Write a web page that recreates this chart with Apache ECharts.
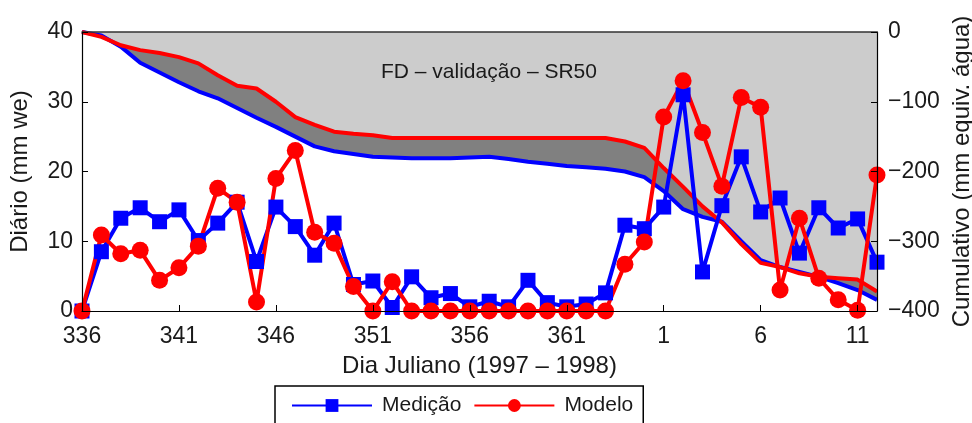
<!DOCTYPE html>
<html>
<head>
<meta charset="utf-8">
<script src="https://cdn.jsdelivr.net/npm/echarts@6/dist/echarts.min.js"></script>
<style>
html,body{margin:0;padding:0;background:#fff;}
#chart{width:972px;height:423px;}
</style>
</head>
<body>
<div id="chart"></div>
<script>
// Julian days (1997 - 1998)
var days = ['336','337','338','339','340','341','342','343','344','345','346','347','348','349','350',
            '351','352','353','354','355','356','357','358','359','360','361','362','363','364','365',
            '1','2','3','4','5','6','7','8','9','10','11','12'];
// Daily values (mm we) - left axis
var medicao = [0, 8.5, 13.3, 14.8, 12.8, 14.5, 10.1, 12.6, 15.6, 7.1, 14.9, 12.1, 8.0, 12.6, 3.8,
               4.3, 0.5, 4.9, 1.9, 2.5, 0.6, 1.4, 0.6, 4.4, 1.2, 0.6, 1.0, 2.6, 12.3, 11.8,
               14.9, 31.0, 5.6, 15.1, 22.1, 14.2, 16.2, 8.3, 14.8, 11.9, 13.2, 7.0];
var modelo = [0, 10.9, 8.2, 8.7, 4.4, 6.2, 9.3, 17.6, 15.6, 1.3, 19.0, 23.0, 11.3, 9.7, 3.5,
              0, 4.2, 0, 0, 0, 0, 0, 0, 0, 0, 0, 0, 0, 6.7, 9.9,
              27.8, 33.0, 25.6, 17.9, 30.6, 29.2, 3.0, 13.3, 4.7, 1.6, 0.1, 19.5];
// Cumulative values (mm equiv. água) - right axis
var cumMedicao = [0, -5, -21, -44, -58, -72, -85, -95, -109, -123, -136, -150, -164, -171, -175,
                  -179, -180, -181, -181, -181, -180, -179, -182, -186, -189, -192, -194, -196, -200, -208,
                  -228, -254, -265, -272, -300, -327, -337, -344, -351, -360, -370, -384];
var cumModelo = [0, -7, -19, -26, -30, -36, -45, -62, -77, -81, -100, -122, -133, -143, -146,
                 -148, -152, -152, -152, -152, -152, -152, -152, -152, -152, -152, -152, -152, -157, -166,
                 -195, -222, -250, -273, -304, -331, -337, -346, -351, -353, -355, -372];
var leftTicks = {min: 0, max: 40, interval: 10};
var rightTicks = {min: -400, max: 0, interval: 100};

var FONT = 'Liberation Sans, Arial, Helvetica, sans-serif';
var TXT = '#1a1a1a';
var chart = echarts.init(document.getElementById('chart'), null, {renderer: 'canvas'});
chart.setOption({
  animation: false,
  backgroundColor: '#ffffff',
  textStyle: {fontFamily: FONT},
  title: {
    text: 'FD – validação – SR50',
    left: 381, top: 62, padding: 0,
    textStyle: {fontFamily: FONT, fontSize: 21, fontWeight: 'normal', color: TXT}
  },
  grid: {left: 82, right: 95, top: 32, bottom: 112, containLabel: false, outerBoundsMode: 'none'},
  legend: {
    data: ['Medição', 'Modelo'],
    left: 275, top: 386,
    padding: [9, 10, 30, 16],
    itemGap: 12,
    itemWidth: 80, itemHeight: 16,
    borderColor: '#000', borderWidth: 1.5,
    textStyle: {fontFamily: FONT, fontSize: 21, color: TXT, padding: [0, 0, 0, 5]}
  },
  xAxis: [{
    type: 'category', data: days, boundaryGap: false, z: 5,
    name: 'Dia Juliano (1997 – 1998)', nameLocation: 'middle', nameGap: 43,
    nameTextStyle: {fontFamily: FONT, fontSize: 24, color: TXT},
    axisLine: {lineStyle: {color: '#000', width: 1.2}},
    axisTick: {inside: true, interval: 4, length: 6, lineStyle: {color: '#000'}},
    axisLabel: {interval: 4, margin: 14, fontFamily: FONT, fontSize: 23, color: TXT},
    splitLine: {show: false}
  }, {
    type: 'category', data: days, boundaryGap: false, position: 'top', z: 5,
    axisLine: {show: true, lineStyle: {color: '#333', width: 1.5}},
    axisTick: {show: false}, axisLabel: {show: false}, splitLine: {show: false}
  }],
  yAxis: [{
    type: 'value', min: leftTicks.min, max: leftTicks.max, interval: leftTicks.interval, z: 5,
    name: 'Diário (mm we)', nameLocation: 'middle', nameGap: 50, nameRotate: 90,
    nameTextStyle: {fontFamily: FONT, fontSize: 24, color: TXT},
    axisLine: {show: true, lineStyle: {color: '#000', width: 1.2}},
    axisTick: {show: true, inside: true, length: 6, lineStyle: {color: '#000'}},
    axisLabel: {margin: 9, fontFamily: FONT, fontSize: 23, color: TXT},
    splitLine: {show: false}
  }, {
    type: 'value', min: rightTicks.min, max: rightTicks.max, interval: rightTicks.interval, z: 5,
    position: 'right',
    name: 'Cumulativo (mm equiv. água)', nameLocation: 'middle', nameGap: 73, nameRotate: 90,
    nameTextStyle: {fontFamily: FONT, fontSize: 24, color: TXT},
    axisLine: {show: true, lineStyle: {color: '#000', width: 1.2}},
    axisTick: {show: true, inside: true, length: 6, lineStyle: {color: '#000'}},
    axisLabel: {margin: 11, fontFamily: FONT, fontSize: 23, color: TXT,
      formatter: function (v) { return v < 0 ? '−' + (-v) : String(v); }},
    splitLine: {show: false}
  }],
  series: [
    {name: 'cumMedArea', type: 'line', yAxisIndex: 1, data: cumMedicao, showSymbol: false,
     lineStyle: {width: 0}, areaStyle: {color: '#808080', opacity: 1, origin: 'end'}, silent: true},
    {name: 'cumModArea', type: 'line', yAxisIndex: 1, data: cumModelo, showSymbol: false,
     lineStyle: {width: 0}, areaStyle: {color: '#cccccc', opacity: 1, origin: 'end'}, silent: true},
    {name: 'cumMed', type: 'line', yAxisIndex: 1, data: cumMedicao, showSymbol: false,
     lineStyle: {color: '#0000ff', width: 4}, itemStyle: {color: '#0000ff'}},
    {name: 'cumMod', type: 'line', yAxisIndex: 1, data: cumModelo, showSymbol: false,
     lineStyle: {color: '#ff0000', width: 4}, itemStyle: {color: '#ff0000'}},
    {name: 'Medição', type: 'line', yAxisIndex: 0, data: medicao, clip: false,
     symbol: 'rect', symbolSize: 15, showSymbol: true, showAllSymbol: true,
     lineStyle: {color: '#0000ff', width: 4}, itemStyle: {color: '#0000ff'}},
    {name: 'Modelo', type: 'line', yAxisIndex: 0, data: modelo, clip: false,
     symbol: 'circle', symbolSize: 17, showSymbol: true, showAllSymbol: true,
     lineStyle: {color: '#ff0000', width: 4}, itemStyle: {color: '#ff0000'}}
  ]
});
</script>
</body>
</html>
